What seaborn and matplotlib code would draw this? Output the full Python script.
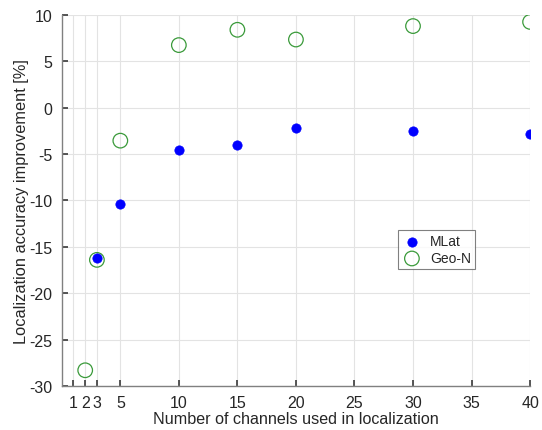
import numpy as np
import pandas as pd
import seaborn as sns
import matplotlib
matplotlib.use("Agg")
import matplotlib.pyplot as plt

mlat_x = [3, 5, 10, 15, 20, 30, 40]
mlat_y = [-16.2, -10.4, -4.55, -4.05, -2.2, -2.5, -2.8]
geo_x = [2, 3, 5, 10, 15, 20, 30, 40]
geo_y = [-28.3, -16.4, -3.55, 6.75, 8.4, 7.35, 8.8, 9.25]
xticks = [1, 2, 3, 5, 10, 15, 20, 25, 30, 35, 40]
yticks = [-30, -25, -20, -15, -10, -5, 0, 5, 10]

sns.set_theme(style="white")
plt.rcParams['font.family'] = ['Liberation Sans', 'DejaVu Sans']

df_m = pd.DataFrame({"x": mlat_x, "y": mlat_y})
df_g = pd.DataFrame({"x": geo_x, "y": geo_y})

fig = plt.figure(figsize=(5.42, 4.31), dpi=100)
ax = fig.add_axes([0.114, 0.102, 0.864, 0.861])

sns.scatterplot(data=df_m, x="x", y="y", ax=ax, color="#0000ff", s=45,
                edgecolor="#0000ff", linewidth=0.5, label="MLat", zorder=3)
sns.scatterplot(data=df_g, x="x", y="y", ax=ax, facecolor="none", s=110,
                edgecolor="#3a9a3a", linewidth=0.9, label="Geo-N", zorder=2)

ax.set_xlim(0, 40)
ax.set_ylim(-30, 10)
ax.set_xticks(xticks)
ax.set_yticks(yticks)
ax.set_xticklabels([str(t) for t in xticks])
ax.set_yticklabels([str(t) for t in yticks])
ax.grid(True, color="#e3e3e3", linewidth=0.8)
ax.set_axisbelow(True)
for s in ["top", "right"]:
    ax.spines[s].set_visible(False)
for s in ["left", "bottom"]:
    ax.spines[s].set_color("#808080")
    ax.spines[s].set_linewidth(1.0)
ax.tick_params(axis="both", direction="in", length=4, color="#404040",
               labelsize=11.5, labelcolor="#262626", left=True, bottom=True)
ax.tick_params(axis="x", pad=6.5)
ax.tick_params(axis="y", pad=7)
ax.set_xlabel("Number of channels used in localization", fontsize=11.6, color="#262626", labelpad=1)
ax.set_ylabel("Localization accuracy improvement [%]", fontsize=11.8, color="#262626", labelpad=0)

leg = ax.legend(loc="upper left", bbox_to_anchor=(0.718, 0.42), frameon=True,
                fontsize=10, fancybox=False, borderpad=0.3, handletextpad=0.6,
                handlelength=1.4, labelspacing=0.2, borderaxespad=0)
leg.get_frame().set_edgecolor("#606060")
leg.get_frame().set_linewidth(0.8)

fig.savefig("out.png", dpi=100)
